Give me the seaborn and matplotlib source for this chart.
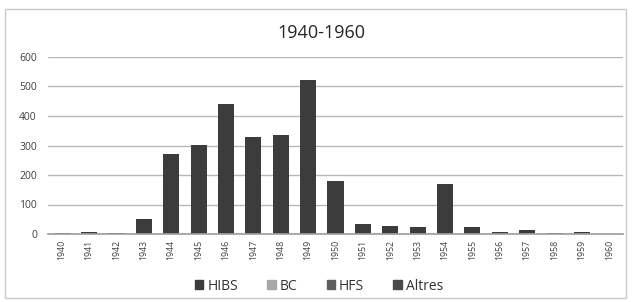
import matplotlib
matplotlib.use("Agg")
import matplotlib.pyplot as plt
import matplotlib.patches as mpatches
import pandas as pd
import seaborn as sns

# Dades llegides del gràfic (aprox.)
years = list(range(1940, 1961))
hibs = [2, 6, 2, 52, 270, 302, 440, 328, 336, 523, 180, 33, 28, 24, 170, 24, 7, 12, 3, 6, 1]
bc = [0] * 21
hfs = [0] * 21
altres = [0] * 21
series_names = ["HIBS", "BC", "HFS", "Altres"]
colors = ["#3c3c3c", "#a8a8a8", "#5e5e5e", "#4a4a4a"]

rows = []
for name, vals in zip(series_names, [hibs, bc, hfs, altres]):
    for y, v in zip(years, vals):
        rows.append({"any": y, "serie": name, "valor": v})
df = pd.DataFrame(rows)

sns.set_theme(style="white")
plt.rcParams["font.family"] = ["Open Sans", "DejaVu Sans"]

W, H = 636, 302
fig = plt.figure(figsize=(W / 100, H / 100), dpi=100)
ax = fig.add_axes([48 / W, (H - 234) / H, 575 / W, 177 / H])

sns.histplot(
    data=df, x="any", weights="valor", hue="serie", hue_order=series_names,
    multiple="stack", discrete=True, shrink=0.585, palette=colors,
    edgecolor="none", alpha=1, ax=ax, legend=False,
)

ax.set_xlim(1939.5, 1960.5)
ax.set_ylim(0, 600)
ax.set_yticks(range(0, 601, 100))
ax.yaxis.grid(True, color="#b8b8b8", linewidth=1)
ax.set_axisbelow(True)
ax.set_xticks(years)
ax.set_xticklabels([str(y) for y in years], rotation=90, fontsize=6.3, color="#404040")
ax.tick_params(axis="y", labelsize=7.5, colors="#404040", length=0, pad=8)
ax.tick_params(axis="x", length=0, pad=4)
ax.set_xlabel("")
ax.set_ylabel("")
for s in ["top", "right", "left"]:
    ax.spines[s].set_visible(False)
ax.spines["bottom"].set_color("#a0a0a0")

fig.text(321 / W, 1 - 33 / H, "1940-1960", fontsize=13, color="#262626",
         ha="center", va="center")

handles = [mpatches.Patch(facecolor=c, edgecolor=c, label=n,
                          hatch="xxxx" if n == "HFS" else None)
           for n, c in zip(series_names, colors)]
fig.legend(handles=handles, loc="center", bbox_to_anchor=(319 / W, 1 - 286 / H), ncol=4,
           frameon=False, fontsize=10, handlelength=0.6, handleheight=0.6,
           handletextpad=0.3, columnspacing=2.1, labelcolor="#333333")

fig.add_artist(mpatches.Rectangle((5 / W, 4 / H), 621 / W, 289 / H,
                                  transform=fig.transFigure, fill=False,
                                  edgecolor="#c8c8c8", linewidth=1))

fig.savefig("out.png", dpi=100, facecolor="white")
